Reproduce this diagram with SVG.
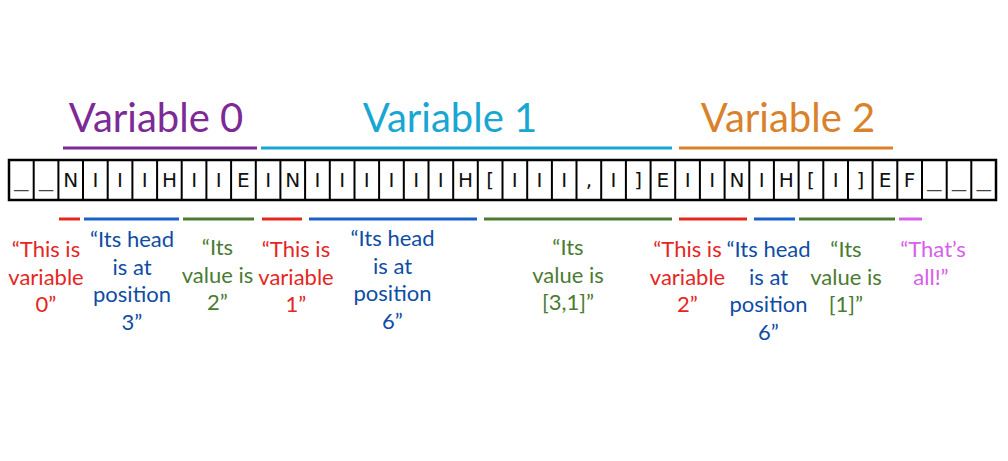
<svg xmlns="http://www.w3.org/2000/svg" width="1008" height="461" viewBox="0 0 1008 461">
<style>
.title{font-family:Lato,"Liberation Sans",sans-serif;font-size:40px;text-anchor:middle}
.lab{font-family:Lato,"Liberation Sans",sans-serif;font-size:22px;text-anchor:middle}
.cell{font-family:"DejaVu Sans",Verdana,sans-serif;font-size:20px;text-anchor:middle;fill:#111}
.us{font-family:"DejaVu Sans",Verdana,sans-serif;font-size:20px;text-anchor:middle;fill:#444}
.red{fill:#E5261F}.blue{fill:#0E4DA4}.green{fill:#4B7B32}.mag{fill:#D660EA}
.ln{stroke-width:3;fill:none}
</style>
<rect width="1008" height="461" fill="#fff"/>

<g id="titles">
<text class="title" x="156" y="132" fill="#7D2A97">Variable 0</text>
<text class="title" x="450" y="132" fill="#18A6D3">Variable 1</text>
<text class="title" x="788" y="132" fill="#D9822B">Variable 2</text>
<line class="ln" x1="63" y1="148" x2="257" y2="148" stroke="#7D2A97"/>
<line class="ln" x1="261" y1="148" x2="672" y2="148" stroke="#18A6D3"/>
<line class="ln" x1="679" y1="148" x2="893" y2="148" stroke="#D9822B"/>
</g>

<g id="tape">
<rect x="9" y="160" width="987" height="40" fill="#fff" stroke="#000" stroke-width="2.5"/>
<path stroke="#000" stroke-width="2" d="M33.7 160V200M58.4 160V200M83 160V200M107.7 160V200M132.4 160V200M157.1 160V200M181.7 160V200M206.4 160V200M231.1 160V200M255.8 160V200M280.4 160V200M305.1 160V200M329.8 160V200M354.5 160V200M379.1 160V200M403.8 160V200M428.5 160V200M453.2 160V200M477.8 160V200M502.5 160V200M527.2 160V200M551.9 160V200M576.5 160V200M601.2 160V200M625.9 160V200M650.6 160V200M675.2 160V200M699.9 160V200M724.6 160V200M749.3 160V200M773.9 160V200M798.6 160V200M823.3 160V200M848 160V200M872.6 160V200M897.3 160V200M922 160V200M946.7 160V200M971.3 160V200"/>
<text class="us" x="21.3" y="187" textLength="14" lengthAdjust="spacingAndGlyphs">_</text>
<text class="us" x="46" y="187" textLength="14" lengthAdjust="spacingAndGlyphs">_</text>
<text class="cell" x="70.7" y="187">N</text>
<text class="cell" x="95.4" y="187">I</text>
<text class="cell" x="120" y="187">I</text>
<text class="cell" x="144.7" y="187">I</text>
<text class="cell" x="169.4" y="187">H</text>
<text class="cell" x="194.1" y="187">I</text>
<text class="cell" x="218.7" y="187">I</text>
<text class="cell" x="243.4" y="187">E</text>
<text class="cell" x="268.1" y="187">I</text>
<text class="cell" x="292.8" y="187">N</text>
<text class="cell" x="317.4" y="187">I</text>
<text class="cell" x="342.1" y="187">I</text>
<text class="cell" x="366.8" y="187">I</text>
<text class="cell" x="391.5" y="187">I</text>
<text class="cell" x="416.1" y="187">I</text>
<text class="cell" x="440.8" y="187">I</text>
<text class="cell" x="465.5" y="187">H</text>
<text class="cell" x="490.2" y="187">[</text>
<text class="cell" x="514.8" y="187">I</text>
<text class="cell" x="539.5" y="187">I</text>
<text class="cell" x="564.2" y="187">I</text>
<text class="cell" x="588.9" y="187">,</text>
<text class="cell" x="613.5" y="187">I</text>
<text class="cell" x="638.2" y="187">]</text>
<text class="cell" x="662.9" y="187">E</text>
<text class="cell" x="687.6" y="187">I</text>
<text class="cell" x="712.2" y="187">I</text>
<text class="cell" x="736.9" y="187">N</text>
<text class="cell" x="761.6" y="187">I</text>
<text class="cell" x="786.3" y="187">H</text>
<text class="cell" x="810.9" y="187">[</text>
<text class="cell" x="835.6" y="187">I</text>
<text class="cell" x="860.3" y="187">]</text>
<text class="cell" x="885" y="187">E</text>
<text class="cell" x="909.6" y="187">F</text>
<text class="us" x="934.3" y="187" textLength="14" lengthAdjust="spacingAndGlyphs">_</text>
<text class="us" x="959" y="187" textLength="14" lengthAdjust="spacingAndGlyphs">_</text>
<text class="us" x="983.7" y="187" textLength="14" lengthAdjust="spacingAndGlyphs">_</text>
</g>

<g id="connectors">
<line class="ln" x1="59" y1="219" x2="80" y2="219" stroke="#E5261F"/>
<line class="ln" x1="84" y1="219" x2="179" y2="219" stroke="#1B5FC8"/>
<line class="ln" x1="183" y1="219" x2="254" y2="219" stroke="#4B7B32"/>
<line class="ln" x1="262" y1="219" x2="302" y2="219" stroke="#E5261F"/>
<line class="ln" x1="309" y1="219" x2="477" y2="219" stroke="#1B5FC8"/>
<line class="ln" x1="484" y1="219" x2="672" y2="219" stroke="#4B7B32"/>
<line class="ln" x1="679" y1="219" x2="747" y2="219" stroke="#E5261F"/>
<line class="ln" x1="754" y1="219" x2="795" y2="219" stroke="#1B5FC8"/>
<line class="ln" x1="799" y1="219" x2="895" y2="219" stroke="#4B7B32"/>
<line class="ln" x1="899" y1="219" x2="922" y2="219" stroke="#D660EA"/>
</g>

<g id="label-v0-name" class="lab red">
<text x="46" y="257">“This is</text><text x="46" y="284.5">variable</text><text x="46" y="312">0”</text>
</g>
<g id="label-v0-head" class="lab blue">
<text x="132" y="247">“Its head</text><text x="132" y="274.5">is at</text><text x="132" y="302">position</text><text x="132" y="329.5">3”</text>
</g>
<g id="label-v0-value" class="lab green">
<text x="217.5" y="255">“Its</text><text x="217.5" y="282.5">value is</text><text x="217.5" y="310">2”</text>
</g>
<g id="label-v1-name" class="lab red">
<text x="296" y="257">“This is</text><text x="296" y="284.5">variable</text><text x="296" y="312">1”</text>
</g>
<g id="label-v1-head" class="lab blue">
<text x="392.5" y="246">“Its head</text><text x="392.5" y="273.5">is at</text><text x="392.5" y="301">position</text><text x="392.5" y="328.5">6”</text>
</g>
<g id="label-v1-value" class="lab green">
<text x="568" y="255">“Its</text><text x="568" y="282.5">value is</text><text x="568" y="310">[3,1]”</text>
</g>
<g id="label-v2-name" class="lab red">
<text x="687.5" y="257">“This is</text><text x="687.5" y="284.5">variable</text><text x="687.5" y="312">2”</text>
</g>
<g id="label-v2-head" class="lab blue">
<text x="768.5" y="257">“Its head</text><text x="768.5" y="284.5">is at</text><text x="768.5" y="312">position</text><text x="768.5" y="339.5">6”</text>
</g>
<g id="label-v2-value" class="lab green">
<text x="846" y="257">“Its</text><text x="846" y="284.5">value is</text><text x="846" y="312">[1]”</text>
</g>
<g id="label-end" class="lab mag">
<text x="933" y="257">“That’s</text><text x="931" y="284.5">all!”</text>
</g>
</svg>
